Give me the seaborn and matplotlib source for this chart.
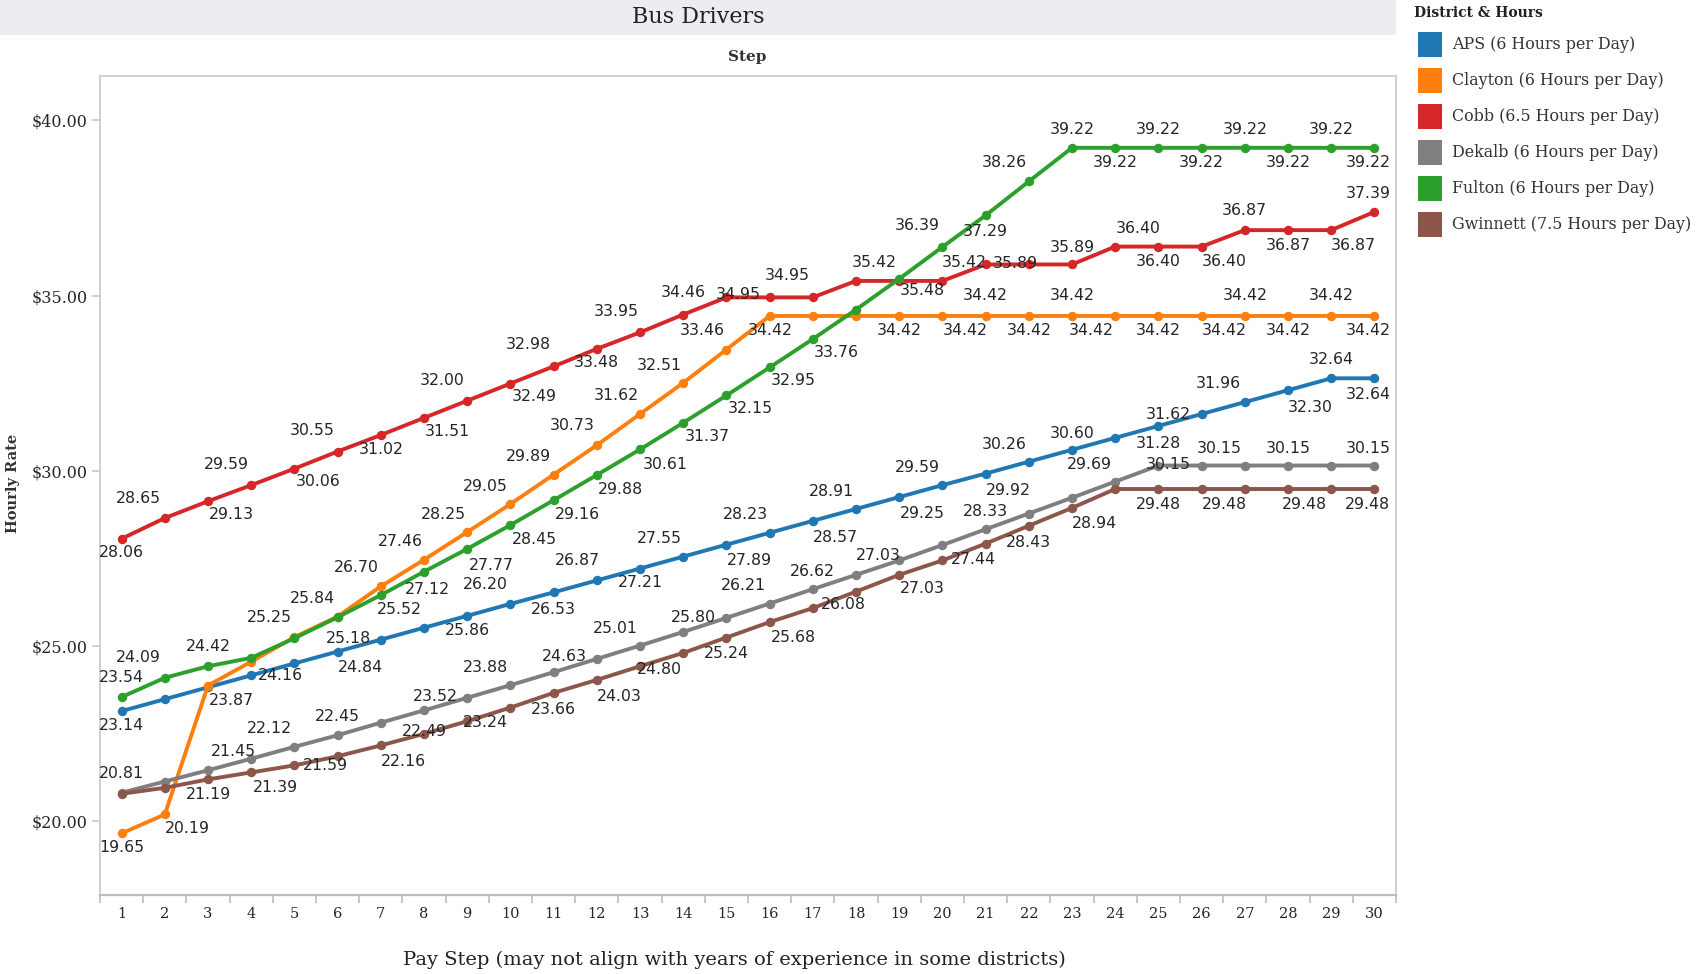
import numpy as np
import pandas as pd
import matplotlib
matplotlib.use("Agg")
import matplotlib.pyplot as plt
from matplotlib.patches import Rectangle
import seaborn as sns

# ---------------- data ----------------
steps = list(range(1, 31))
districts = ["APS (6 Hours per Day)", "Clayton (6 Hours per Day)", "Cobb (6.5 Hours per Day)",
             "Dekalb (6 Hours per Day)", "Fulton (6 Hours per Day)", "Gwinnett (7.5 Hours per Day)"]
aps = [23.14, 23.48, 23.82, 24.16, 24.50, 24.84, 25.18, 25.52, 25.86, 26.20, 26.53, 26.87, 27.21, 27.55, 27.89,
       28.23, 28.57, 28.91, 29.25, 29.59, 29.92, 30.26, 30.60, 30.94, 31.28, 31.62, 31.96, 32.30, 32.64, 32.64]
clayton = [19.65, 20.19, 23.87, 24.55, 25.25, 25.84, 26.70, 27.46, 28.25, 29.05, 29.89, 30.73, 31.62, 32.51, 33.46,
           34.42, 34.42, 34.42, 34.42, 34.42, 34.42, 34.42, 34.42, 34.42, 34.42, 34.42, 34.42, 34.42, 34.42, 34.42]
cobb = [28.06, 28.65, 29.13, 29.59, 30.06, 30.55, 31.02, 31.51, 32.00, 32.49, 32.98, 33.48, 33.95, 34.46, 34.95,
        34.95, 34.95, 35.42, 35.42, 35.42, 35.89, 35.89, 35.89, 36.40, 36.40, 36.40, 36.87, 36.87, 36.87, 37.39]
dekalb = [20.81, 21.13, 21.45, 21.78, 22.12, 22.45, 22.81, 23.16, 23.52, 23.88, 24.25, 24.63, 25.01, 25.40, 25.80,
          26.21, 26.62, 27.03, 27.44, 27.88, 28.33, 28.78, 29.23, 29.69, 30.15, 30.15, 30.15, 30.15, 30.15, 30.15]
fulton = [23.54, 24.09, 24.42, 24.66, 25.22, 25.82, 26.45, 27.12, 27.77, 28.45, 29.16, 29.88, 30.61, 31.37, 32.15,
          32.95, 33.76, 34.60, 35.48, 36.39, 37.29, 38.26, 39.22, 39.22, 39.22, 39.22, 39.22, 39.22, 39.22, 39.22]
gwinnett = [20.78, 20.95, 21.19, 21.39, 21.59, 21.85, 22.16, 22.49, 22.85, 23.24, 23.66, 24.03, 24.42, 24.80, 25.24,
            25.68, 26.08, 26.55, 27.03, 27.44, 27.92, 28.43, 28.94, 29.48, 29.48, 29.48, 29.48, 29.48, 29.48, 29.48]
y_ticks = [20, 25, 30, 35, 40]

series = [aps, clayton, cobb, dekalb, fulton, gwinnett]
colors = ["#1f77b4", "#ff7f0e", "#d62728", "#7f7f7f", "#2ca02c", "#8c564b"]

# label placement (step, dx, dy) in reference screen px (dy positive = downwards)
label_spots = {
    "APS (6 Hours per Day)": [(1, 0, 13), (4, 27, 0), (6, 21, 15), (7, -30, -1), (8, -23, -17), (9, 0, 14),
                              (10, -23, -18), (11, 0, 16), (12, -18, -18), (13, 0, 13), (14, -22, -17),
                              (15, 21, 15), (16, -22, -17), (17, 21, 15), (18, -23, -16), (19, 21, 15),
                              (20, -23, -16), (21, 21, 16), (22, -23, -16), (23, 0, -15), (25, 0, 16),
                              (26, -31, 0), (27, -24, -17), (28, 20, 16), (29, 0, -17), (30, -6, 15)],
    "Clayton (6 Hours per Day)": [(1, 0, 13), (2, 21, 13), (3, 22, 14), (5, -23, -18), (6, -23, -17),
                                  (7, -23, -17), (8, -22, -17), (9, -22, -16), (10, -23, -16), (11, -23, -17),
                                  (12, -23, -18), (13, -22, -17), (14, -22, -16), (15, -22, -18), (16, 1, 13),
                                  (19, 0, 13), (20, 21, 13), (21, 0, -19), (22, 0, 13), (23, 0, -19),
                                  (24, -22, 13), (25, 0, 13), (26, 21, 13), (27, 0, -19), (28, 0, 13),
                                  (29, 0, -19), (30, -6, 13)],
    "Cobb (6.5 Hours per Day)": [(1, 0, 13), (2, -24, -18), (3, 22, 12), (4, -23, -19), (5, 22, 12),
                                 (6, -23, -19), (7, 0, 13), (8, 22, 13), (9, -23, -19), (10, 22, 12),
                                 (11, -23, -20), (12, 0, 13), (13, -22, -19), (14, 0, -20), (15, 11, -3),
                                 (16, 16, -20), (18, 17, -17), (20, 20, -17), (21, 27, -1), (23, 0, -16),
                                 (24, 21, -17), (25, 0, 14), (26, 21, 14), (27, 0, -18), (28, 0, 14),
                                 (29, 20, 14), (30, -6, -17)],
    "Dekalb (6 Hours per Day)": [(1, 0, -18), (3, 23, -17), (5, -23, -17), (6, 0, -17), (9, -29, -1),
                                 (10, -23, -16), (12, -30, -2), (13, -23, -16), (15, -30, 0), (16, -24, -17),
                                 (17, 0, -16), (18, 21, -18), (21, 0, -16), (24, -24, -16), (25, 9, -1),
                                 (26, 16, -16), (28, 0, -16), (30, -6, -16)],
    "Fulton (6 Hours per Day)": [(1, 0, -18), (2, -24, -19), (3, 0, -18), (8, 3, 16), (9, 22, 15),
                                 (10, 22, 13), (11, 22, 13), (12, 22, 13), (13, 23, 14), (14, 22, 13),
                                 (15, 22, 12), (16, 22, 12), (17, 22, 12), (19, 21, 11), (20, -23, -20),
                                 (21, 0, 15), (22, -23, -17), (23, 0, -17), (24, 0, 14), (25, 0, -17),
                                 (26, 0, 14), (27, 0, -17), (28, 0, 14), (29, 0, -17), (30, -6, 14)],
    "Gwinnett (7.5 Hours per Day)": [(3, 0, 14), (4, 22, 14), (5, 29, 0), (7, 21, 15), (8, 0, -2),
                                     (10, -23, 14), (11, 0, 15), (12, 21, 15), (14, -22, 15), (15, 0, 15),
                                     (16, 22, 14), (17, 28, -3), (19, 21, 13), (20, 29, -1), (22, 0, 15),
                                     (23, 21, 14), (25, 0, 14), (26, 21, 14), (28, 15, 14), (30, -6, 14)],
}

# ---------------- figure ----------------
W, H = 1701, 974
SC = 1701 / 1568.0
fig = plt.figure(figsize=(W / 100, H / 100), dpi=100)
fig.patch.set_facecolor("white")

def fx(px):
    return px / W

def fy(py):
    return 1 - py / H

ax = fig.add_axes([fx(100), fy(895), fx(1396) - fx(100), fy(76) - fy(895)])

df = pd.DataFrame({
    "Step": steps * len(districts),
    "Rate": [v for s in series for v in s],
    "District": [d for d in districts for _ in steps],
})

sns.lineplot(data=df, x="Step", y="Rate", hue="District", hue_order=districts,
             palette=colors, marker="o", markersize=6.8, markeredgewidth=0,
             linewidth=2.8, legend=False, ax=ax, zorder=3)

serif = "DejaVu Serif"

# labels
for d, s in zip(districts, series):
    for st, dx, dy in label_spots[d]:
        v = s[st - 1]
        ax.annotate(f"{v:.2f}", (st, v), xytext=(dx * SC, -dy * SC), textcoords="offset pixels",
                    ha="center", va="center", fontsize=11.3, color="#262626", zorder=5,
                    family="DejaVu Sans")

ax.set_xlim(0.5, 30.5)
ax.set_ylim(17.89, 41.27)
ax.set_xticks(steps)
ax.set_xticklabels([str(s) for s in steps], family=serif, fontsize=10.5, color="#262626")
ax.set_xticks(np.arange(0.5, 31, 1), minor=True)
ax.tick_params(axis="x", which="major", length=0, pad=9)
ax.tick_params(axis="x", which="minor", length=6, color="#bdbdbd", width=1.2)
ax.set_yticks(y_ticks)
ax.set_yticklabels([f"${t:.2f}" for t in y_ticks], family=serif, fontsize=11.5, color="#262626")
ax.tick_params(axis="y", length=6, color="#c8c8c8", width=1.2, pad=3)
ax.set_xlabel("")
ax.set_ylabel("")
for sp in ["left", "top", "right"]:
    ax.spines[sp].set_color("#c8c8c8")
    ax.spines[sp].set_linewidth(1.2)
ax.spines["bottom"].set_color("#bdbdbd")
ax.spines["bottom"].set_linewidth(1.6)
ax.grid(False)

# header band & titles
fig.patches.append(Rectangle((0, fy(35)), fx(1396), 35 / H, transform=fig.transFigure,
                             facecolor="#ebedf0", edgecolor="none", zorder=0))
fig.text(fx(698), fy(17), "Bus Drivers", ha="center", va="center", family=serif, fontsize=16,
         color="#222222")
fig.text(fx(747), fy(57), "Step", ha="center", va="center", family=serif, fontsize=11,
         weight="bold", color="#333333")
fig.text(fx(734), fy(960), "Pay Step (may not align with years of experience in some districts)",
         ha="center", va="center", family=serif, fontsize=14, color="#222222")
fig.text(fx(13), fy(483), "Hourly Rate", ha="center", va="center", rotation=90, family=serif,
         fontsize=10.5, weight="bold", color="#333333")

# legend
fig.text(fx(1414), fy(13), "District & Hours", ha="left", va="center", family=serif, fontsize=10,
         weight="bold", color="#222222")
for i, (d, c) in enumerate(zip(districts, colors)):
    cy = 44.5 + i * 36.0
    fig.patches.append(Rectangle((fx(1418), fy(cy + 12)), 24 / W, 24 / H, transform=fig.transFigure,
                                 facecolor=c, edgecolor="none"))
    fig.text(fx(1452), fy(cy), d, ha="left", va="center", family=serif, fontsize=11.4, color="#333333")

fig.savefig("out.png", dpi=100, facecolor="white")
